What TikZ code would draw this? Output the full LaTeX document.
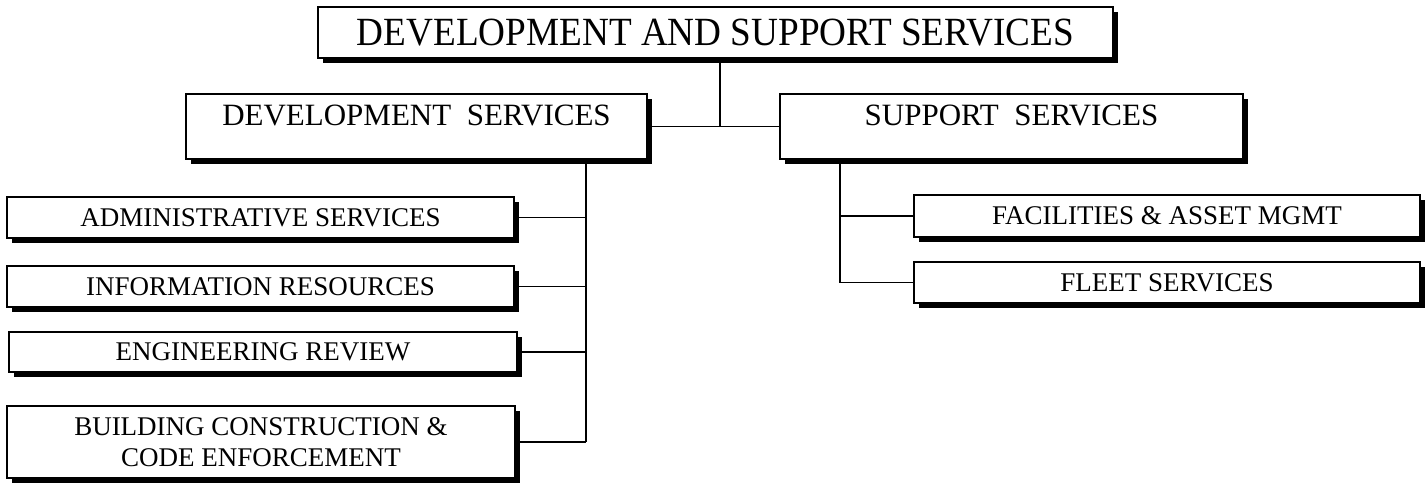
\documentclass[tikz,border=0pt]{standalone}
\usepackage{fontspec}
\setmainfont{Liberation Serif}
\newfontfamily\condserif[FakeStretch=0.93]{Liberation Serif}
\usetikzlibrary{shadows}
\tikzset{
  orgbox/.style={draw=black, line width=1.6pt, fill=white, inner sep=0pt, align=center,
    drop shadow={shadow xshift=5pt, shadow yshift=-5pt, fill=black, opacity=1}},
  toptext/.style={font=\condserif\fontsize{40}{44}\selectfont},
  midtext/.style={font=\fontsize{31}{34}\selectfont},
  smalltext/.style={font=\fontsize{27}{31}\selectfont},
  conn/.style={line width=1.8pt, draw=black}
}
\begin{document}
\begin{tikzpicture}[x=1pt,y=-1pt]
\useasboundingbox (0,0) rectangle (1427,485);
\node[orgbox, toptext, minimum width=795pt, minimum height=51pt] (top) at (715.5,32.5) {DEVELOPMENT AND SUPPORT SERVICES};
\node[orgbox, midtext, minimum width=461pt, text height=27pt, text depth=30pt, inner ysep=4pt] (dev) at (416.5,126.5) {DEVELOPMENT\ \ SERVICES};
\node[orgbox, midtext, minimum width=463pt, text height=27pt, text depth=30pt, inner ysep=4pt] (sup) at (1011.5,126.5) {SUPPORT\ \ SERVICES};
\node[orgbox, smalltext, minimum width=507pt, minimum height=41pt] (adm) at (260.5,217.5) {ADMINISTRATIVE SERVICES};
\node[orgbox, smalltext, minimum width=507pt, minimum height=41pt] (inf) at (260.5,286.5) {INFORMATION RESOURCES};
\node[orgbox, smalltext, minimum width=508pt, minimum height=40pt] (eng) at (263,352) {ENGINEERING REVIEW};
\node[orgbox, smalltext, minimum width=508pt, minimum height=72pt] (bld) at (261,442) {BUILDING CONSTRUCTION \&\\CODE ENFORCEMENT};
\node[orgbox, smalltext, minimum width=506pt, minimum height=42pt] (fac) at (1167,216) {FACILITIES \& ASSET MGMT};
\node[orgbox, smalltext, minimum width=506pt, minimum height=41pt] (flt) at (1167,282.5) {FLEET SERVICES};
\coordinate (j) at (720,126.5);
\coordinate (lb) at (586,0);
\coordinate (rb) at (840,0);
\draw[conn] (dev.east) -- (sup.west);
\draw[conn] (top.south -| j) -- (j);
\draw[conn] (dev.south -| lb) -- (bld.east -| lb);
\draw[conn] (adm.east) -- (adm.east -| lb);
\draw[conn] (inf.east) -- (inf.east -| lb);
\draw[conn] (eng.east) -- (eng.east -| lb);
\draw[conn] (bld.east) -- (bld.east -| lb);
\draw[conn] (sup.south -| rb) |- (flt.west);
\draw[conn] (fac.west) -- (fac.west -| rb);
\end{tikzpicture}
\end{document}
